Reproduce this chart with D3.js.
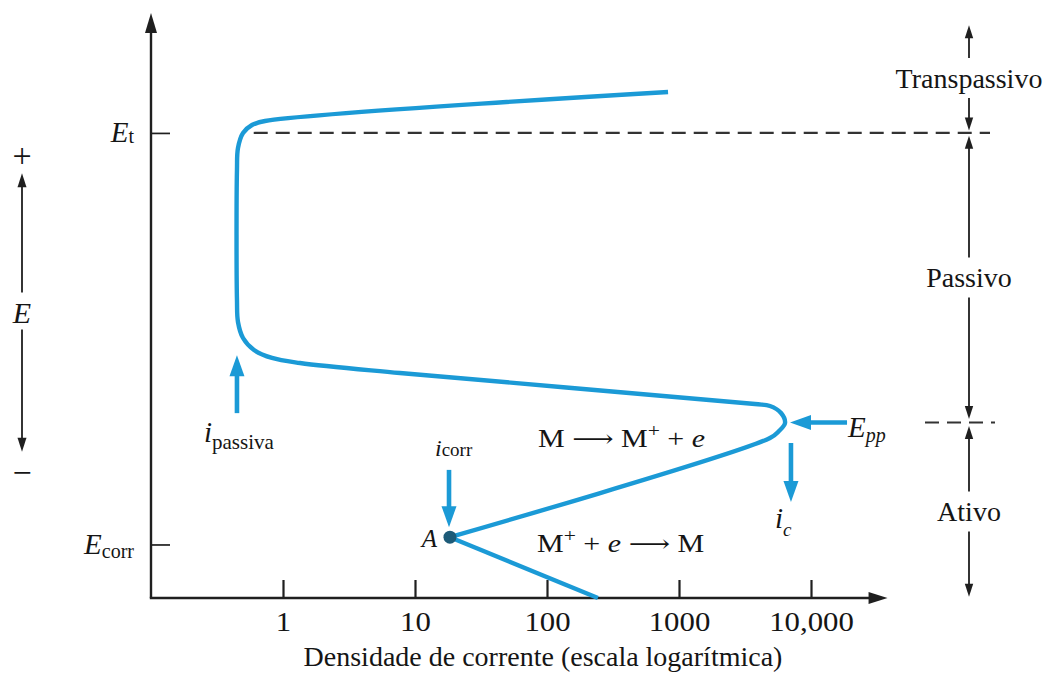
<!DOCTYPE html>
<html>
<head>
<meta charset="utf-8">
<script src="https://cdn.jsdelivr.net/npm/d3@7"></script>
<style>
  body { margin: 0; background: #fff; }
  svg { display: block; }
  text { font-family: "Liberation Serif", "Times New Roman", serif; fill: #151515; }
</style>
</head>
<body>
<svg id="chart" width="1046" height="675"></svg>
<script>
// Current density axis (log scale) ticks
const xTickValues = [1, 10, 100, 1000, 10000];
const xTickLabels = ["1", "10", "100", "1000", "10,000"];

// Potential (relative units) of the marked levels
const E_CORR_TICK = 9.15;
const E_PP = 30.0;
const E_T = 79.5;
const yTickValues = [E_CORR_TICK, E_T];
const yTickSubs = ["corr", "t"];

// Cathodic branch: from the axis up to point A
const cathodicI = [243, 18.4];
const cathodicE = [0, 10.4];

// Anodic branch: A -> active nose (Epp) -> passive plateau -> transpassive
const anodicI = [18.4, 4890, 5724, 6357, 5929, 4890, 3767, 7.69, 1.345, 0.825, 0.603, 0.498, 0.456, 0.448, 0.448, 0.456, 0.498, 0.582, 0.731, 826];
const anodicE = [10.4, 27.35, 28.55, 29.91, 31.62, 32.82, 33.16, 38.46, 40.17, 41.03, 42.39, 44.44, 47.18, 50.94, 73.16, 76.92, 79.49, 80.85, 81.54, 86.5];

// Point A (corrosion potential / current)
const pointA = { i: 18.4, E: 10.4 };

// Region spans on the right (potential ranges)
const regionNames = ["Transpassivo", "Passivo", "Ativo"];
const regionTop = [97.9, 79.0, 29.4];
const regionBottom = [79.9, 30.6, 0.2];

// Blue pointer arrows: [current, E] tail -> tip
const passivaArrow = { i: [0.448, 0.448], E: [31.6, 41.5] };
const corrArrow = { i: [18.1, 18.1], E: [21.9, 12.1] };
const icArrow = { i: [7050, 7050], E: [26.5, 16.4] };
const eppArrow = { i: [18750, 6935], E: [E_PP, E_PP] };

// Left potential direction indicator
const eIndicator = { top: 72.6, bottom: 25.0 };

const BLUE = "#1b9ad6";
const DARK = "#1f1f1f";

const svg = d3.select("#chart");
svg.append("rect").attr("width", 1046).attr("height", 675).attr("fill", "#fff");

const x = d3.scaleLog().domain([0.1, 10000]).range([151, 811]);
const y = d3.scaleLinear().domain([0, 100]).range([598, 13]);
const X_END = 38000;
const E_END = 100;

// arrowhead triangle with its tip at (tx, ty), pointing along (dx, dy)
function head(g, tx, ty, dx, dy, len, hw, color) {
  const bx = tx - dx * len, by = ty - dy * len;
  const px = -dy, py = dx;
  g.append("path")
    .attr("d", `M${tx},${ty}L${bx + px * hw},${by + py * hw}L${bx - px * hw},${by - py * hw}Z`)
    .attr("fill", color);
}

// straight arrow from (x1,y1) to (x2,y2)
function arrow(g, x1, y1, x2, y2, opt) {
  const { width, color, len, hw, start = false, end = true } = opt;
  const L = Math.hypot(x2 - x1, y2 - y1);
  const dx = (x2 - x1) / L, dy = (y2 - y1) / L;
  const sx = start ? x1 + dx * len * 0.8 : x1, sy = start ? y1 + dy * len * 0.8 : y1;
  const ex = end ? x2 - dx * len * 0.8 : x2, ey = end ? y2 - dy * len * 0.8 : y2;
  g.append("line").attr("x1", sx).attr("y1", sy).attr("x2", ex).attr("y2", ey)
    .attr("stroke", color).attr("stroke-width", width);
  if (end) head(g, x2, y2, dx, dy, len, hw, color);
  if (start) head(g, x1, y1, -dx, -dy, len, hw, color);
}

// text slightly widened horizontally, anchored at (px, py)
function wideText(px, py, sx, size) {
  return svg.append("g")
    .attr("transform", `translate(${px},${py}) scale(${sx},1)`)
    .append("text").attr("font-size", size);
}

// ---- axes ----
const axes = svg.append("g");
arrow(axes, x(0.1), y(0), x(0.1), y(E_END), { width: 2.4, color: DARK, len: 20, hw: 6 });
arrow(axes, x(0.1) - 1.2, y(0), x(X_END), y(0), { width: 2.4, color: DARK, len: 19, hw: 6 });

const xAxisG = svg.append("g")
  .attr("transform", `translate(0,${y(0)})`)
  .call(d3.axisBottom(x).tickValues(xTickValues)
    .tickFormat((d, i) => xTickLabels[i])
    .tickSizeInner(-18).tickSizeOuter(0).tickPadding(13))
  .attr("font-size", 28);
xAxisG.select(".domain").remove();
xAxisG.selectAll(".tick line").attr("stroke", DARK).attr("stroke-width", 2.2);
xAxisG.selectAll(".tick text").attr("fill", "#151515").attr("transform", "scale(1.1,1)");

const yAxisG = svg.append("g")
  .attr("transform", `translate(${x(0.1)},0)`)
  .call(d3.axisLeft(y).tickValues(yTickValues)
    .tickFormat(() => "")
    .tickSizeInner(-19).tickSizeOuter(0).tickPadding(17))
  .attr("font-size", 28);
yAxisG.select(".domain").remove();
yAxisG.selectAll(".tick line").attr("stroke", DARK).attr("stroke-width", 1.7);
yAxisG.selectAll(".tick text").each(function (d, i) {
  const t = d3.select(this).attr("fill", "#151515").attr("dy", "0.32em");
  t.append("tspan").attr("font-style", "italic").attr("font-size", 29).text("E");
  t.append("tspan").attr("font-size", 20).attr("dy", i === 0 ? "0.2em" : "0.05em").text(yTickSubs[i]);
});

svg.append("text")
  .attr("x", 543).attr("y", 666)
  .attr("text-anchor", "middle").attr("font-size", 28)
  .text("Densidade de corrente (escala logarítmica)");

// ---- dashed potential levels ----
svg.append("line")
  .attr("x1", x(0.6)).attr("x2", 990).attr("y1", y(E_T)).attr("y2", y(E_T))
  .attr("stroke", "#333").attr("stroke-width", 2.2).attr("stroke-dasharray", "14,8");
svg.append("line")
  .attr("x1", 925).attr("x2", 995).attr("y1", y(E_PP)).attr("y2", y(E_PP))
  .attr("stroke", "#333").attr("stroke-width", 2.2).attr("stroke-dasharray", "14,8");

// ---- polarization curve ----
const line = d3.line()
  .x(d => x(d[0])).y(d => y(d[1]))
  .curve(d3.curveCatmullRom.alpha(0.5));
const curveG = svg.append("g").attr("fill", "none").attr("stroke", BLUE)
  .attr("stroke-width", 4.4).attr("stroke-linejoin", "round");
curveG.append("path").attr("d", line(cathodicI.map((v, k) => [v, cathodicE[k]])));
curveG.append("path").attr("d", line(anodicI.map((v, k) => [v, anodicE[k]])));

svg.append("circle")
  .attr("cx", x(pointA.i)).attr("cy", y(pointA.E)).attr("r", 6.5)
  .attr("fill", "#1d5b78");
svg.append("text")
  .attr("x", x(pointA.i) - 13).attr("y", y(pointA.E) + 10)
  .attr("text-anchor", "end").attr("font-size", 25).attr("font-style", "italic")
  .text("A");

// ---- blue pointer arrows ----
const ptr = svg.append("g");
const blueOpt = { width: 4.6, color: BLUE, len: 21, hw: 7.5 };
for (const a of [passivaArrow, corrArrow, icArrow, eppArrow]) {
  arrow(ptr, x(a.i[0]), y(a.E[0]), x(a.i[1]), y(a.E[1]), blueOpt);
}

// i_passiva label
const tp = svg.append("text").attr("x", x(passivaArrow.i[0]) - 33).attr("y", 442);
tp.append("tspan").attr("font-style", "italic").attr("font-size", 29).text("i");
tp.append("tspan").attr("font-size", 21).attr("dy", 7).text("passiva");

// i_corr label
const tc = svg.append("text").attr("x", x(corrArrow.i[0]) - 14).attr("y", 456);
tc.append("tspan").attr("font-style", "italic").attr("font-size", 24).text("i");
tc.append("tspan").attr("font-size", 19).text("corr");

// i_c label
const tic = svg.append("text").attr("x", x(icArrow.i[0]) - 16).attr("y", 528);
tic.append("tspan").attr("font-style", "italic").attr("font-size", 29).text("i");
tic.append("tspan").attr("font-style", "italic").attr("font-size", 19).attr("dy", 8).text("c");

// E_pp label
const te = svg.append("text").attr("x", x(eppArrow.i[0]) + 1).attr("y", 437);
te.append("tspan").attr("font-style", "italic").attr("font-size", 29).text("E");
te.append("tspan").attr("font-style", "italic").attr("font-size", 20).attr("dy", 5).text("pp");

// ---- reactions ----
function reactionParts(t, parts) {
  for (const p of parts) {
    const s = t.append("tspan").text(p.s);
    if (p.arrow) s.attr("font-family", "DejaVu Serif").attr("font-size", 24);
    if (p.sup) s.attr("font-size", 18).attr("dy", -10);
    if (p.down) s.attr("dy", 10);
    if (p.it) s.attr("font-style", "italic");
  }
}
const r1 = wideText(538, 447, 1.2, 25);
reactionParts(r1, [{ s: "M " }, { s: "\u27F6", arrow: true }, { s: " M" }, { s: "+", sup: true },
  { s: " + ", down: true }, { s: "e", it: true }]);
const r2 = wideText(537, 552, 1.2, 25);
reactionParts(r2, [{ s: "M" }, { s: "+", sup: true }, { s: " + ", down: true }, { s: "e", it: true },
  { s: " " }, { s: "\u27F6", arrow: true }, { s: " M" }]);

// ---- region spans on the right ----
const RX = 969;
const regions = svg.append("g");
regionNames.forEach((name, k) => {
  const yt = y(regionTop[k]), yb = y(regionBottom[k]);
  const mid = (yt + yb) / 2;
  regions.append("text")
    .attr("x", RX).attr("y", mid).attr("dy", "0.35em")
    .attr("text-anchor", "middle").attr("font-size", 28).text(name);
  const gap = 20;
  arrow(regions, RX, mid - gap, RX, yt, { width: 1.8, color: DARK, len: 13, hw: 4.2 });
  arrow(regions, RX, mid + gap, RX, yb, { width: 1.8, color: DARK, len: 13, hw: 4.2 });
});

// ---- left potential indicator ----
const LX = 22;
const left = svg.append("g");
const lm = (y(eIndicator.top) + y(eIndicator.bottom)) / 2;
left.append("text").attr("x", LX).attr("y", lm).attr("dy", "0.35em")
  .attr("text-anchor", "middle").attr("font-size", 30).attr("font-style", "italic").text("E");
arrow(left, LX, lm - 20, LX, y(eIndicator.top), { width: 1.8, color: DARK, len: 14, hw: 4.5 });
arrow(left, LX, lm + 17, LX, y(eIndicator.bottom), { width: 1.8, color: DARK, len: 14, hw: 4.5 });
left.append("text").attr("x", LX).attr("y", y(eIndicator.top) - 6)
  .attr("text-anchor", "middle").attr("font-size", 34).text("+");
left.append("text").attr("x", LX).attr("y", y(eIndicator.bottom) + 32)
  .attr("text-anchor", "middle").attr("font-size", 34).text("\u2212");
</script>
</body>
</html>
